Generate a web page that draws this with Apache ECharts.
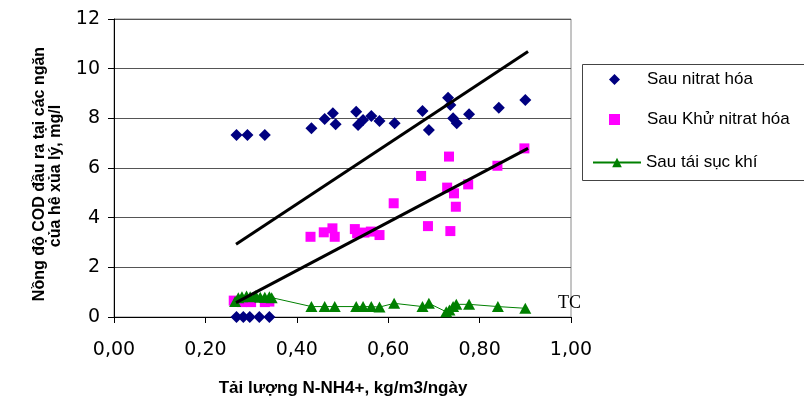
<!DOCTYPE html>
<html>
<head>
<meta charset="utf-8">
<script src="https://cdn.jsdelivr.net/npm/echarts@6/dist/echarts.min.js"></script>
<style>
  html, body { margin: 0; padding: 0; background: #fff; }
  #chart { width: 804px; height: 403px; }
</style>
</head>
<body>
<div id="chart"></div>
<script>
  // Sau nitrat hóa (navy diamonds)
  var nitratX = [0.268, 0.292, 0.330, 0.432, 0.461, 0.479, 0.485, 0.530, 0.534, 0.545, 0.563, 0.581, 0.614,
    0.675, 0.689, 0.731, 0.736, 0.742, 0.750, 0.777, 0.842, 0.900,
    0.268, 0.283, 0.297, 0.318, 0.340]
  var nitratY = [7.33, 7.33, 7.33, 7.60, 7.97, 8.20, 7.76, 8.27, 7.73, 7.93, 8.09, 7.89, 7.80,
    8.30, 7.53, 8.83, 8.54, 8.00, 7.80, 8.16, 8.43, 8.74,
    0, 0, 0, 0, 0]

  // Sau Khử nitrat hóa (magenta squares)
  var khuX = [0.262, 0.280, 0.300, 0.330, 0.340, 0.430, 0.459, 0.478, 0.483, 0.527, 0.532, 0.548, 0.562, 0.581,
    0.612, 0.672, 0.687, 0.729, 0.733, 0.736, 0.744, 0.748, 0.775, 0.839, 0.898]
  var khuY = [0.66, 0.60, 0.60, 0.60, 0.62, 3.23, 3.41, 3.57, 3.23, 3.54, 3.37, 3.40, 3.44, 3.30,
    4.58, 5.68, 3.66, 5.21, 6.46, 3.46, 4.98, 4.44, 5.34, 6.09, 6.79]

  // Sau tái sục khí (green triangles, thin line)
  var sucKhiX = [0.265, 0.272, 0.280, 0.290, 0.298, 0.310, 0.320, 0.330, 0.340, 0.345,
    0.432, 0.461, 0.483, 0.530, 0.545, 0.563, 0.581, 0.613, 0.675, 0.689, 0.727, 0.734, 0.742, 0.749, 0.777, 0.840, 0.900]
  var sucKhiY = [0.62, 0.78, 0.82, 0.85, 0.82, 0.86, 0.80, 0.80, 0.82, 0.78,
    0.42, 0.42, 0.42, 0.42, 0.42, 0.42, 0.40, 0.55, 0.42, 0.55, 0.21, 0.28, 0.42, 0.51, 0.51, 0.42, 0.35]

  // trend lines (end points)
  var trendX = [0.267, 0.906]
  var trend1Y = [2.93, 10.69]
  var trend2Y = [0.58, 6.79]

  function pairs(xs, ys) {
    var out = []
    for (var i = 0; i < xs.length; i++) {
      out.push([xs[i], ys[i]])
    }
    return out
  }

  var legendText = {
    fontFamily: 'Liberation Sans, Arial',
    fontSize: 17,
    color: '#000'
  }

  var chart = echarts.init(document.getElementById('chart'))
  chart.setOption({
    animation: false,
    grid: {
      left: 114,
      right: 233,
      top: 19,
      bottom: 86,
      show: true,
      borderColor: '#8a8a8a',
      borderWidth: 1
    },
    legend: [{
      orient: 'vertical',
      left: 604,
      top: 66,
      itemGap: 23,
      itemWidth: 11,
      itemHeight: 11,
      textStyle: Object.assign({padding: [0, 0, 0, 22]}, legendText),
      data: ['Sau nitrat hóa', 'Sau Khử nitrat hóa']
    }, {
      orient: 'vertical',
      left: 587,
      top: 149,
      itemWidth: 48,
      itemHeight: 12,
      textStyle: legendText,
      data: ['Sau tái sục khí']
    }],
    xAxis: {
      type: 'value',
      min: 0,
      max: 1,
      interval: 0.2,
      axisLine: { lineStyle: { color: '#000', width: 1 } },
      axisTick: { show: true, inside: false, length: 6, lineStyle: { color: '#000' } },
      splitLine: { show: false },
      axisLabel: {
        margin: 24,
        fontFamily: 'DejaVu Sans',
        fontSize: 19,
        color: '#000',
        formatter: function (v) { return v.toFixed(2).replace('.', ',') }
      }
    },
    yAxis: {
      type: 'value',
      min: 0,
      max: 12,
      interval: 2,
      axisLine: { show: true, lineStyle: { color: '#000', width: 1 } },
      axisTick: { show: true, inside: false, length: 6, lineStyle: { color: '#000' } },
      splitLine: { show: true, lineStyle: { color: '#555', width: 1 } },
      axisLabel: {
        margin: 14,
        fontFamily: 'DejaVu Sans',
        fontSize: 19,
        color: '#000'
      }
    },
    graphic: [
      {
        type: 'rect',
        left: 580,
        top: 62,
        shape: { width: 240, height: 116 },
        style: { fill: 'none', stroke: '#444', lineWidth: 1 },
        z: -1
      },
      {
        type: 'text',
        x: 40,
        y: 174,
        rotation: Math.PI / 2,
        style: {
          text: 'Nồng độ COD đầu ra tại các ngăn',
          fontFamily: 'Liberation Sans, Arial',
          fontWeight: 'bold',
          fontSize: 16,
          fill: '#000',
          textAlign: 'center',
          textVerticalAlign: 'middle'
        }
      },
      {
        type: 'text',
        x: 56,
        y: 176,
        rotation: Math.PI / 2,
        style: {
          text: 'của hê xủa lý, mg/l',
          fontFamily: 'Liberation Sans, Arial',
          fontWeight: 'bold',
          fontSize: 16,
          fill: '#000',
          textAlign: 'center',
          textVerticalAlign: 'middle'
        }
      },
      {
        type: 'text',
        x: 343,
        y: 388,
        style: {
          text: 'Tải lượng N-NH4+, kg/m3/ngày',
          fontFamily: 'Liberation Sans, Arial',
          fontWeight: 'bold',
          fontSize: 17,
          fill: '#000',
          textAlign: 'center',
          textVerticalAlign: 'middle'
        }
      },
      {
        type: 'text',
        x: 558,
        y: 303,
        style: {
          text: 'TC',
          fontFamily: 'Liberation Serif, Times New Roman',
          fontSize: 18,
          fill: '#000',
          textAlign: 'left',
          textVerticalAlign: 'middle'
        }
      }
    ],
    series: [
      {
        name: 'Sau Khử nitrat hóa',
        type: 'scatter',
        symbol: 'rect',
        symbolSize: 10,
        itemStyle: { color: '#ff00ff', opacity: 1 },
        data: pairs(khuX, khuY),
        z: 2
      },
      {
        name: 'Sau tái sục khí',
        type: 'line',
        symbol: 'triangle',
        symbolSize: [12, 11],
        showAllSymbol: true,
        lineStyle: { color: '#008000', width: 1 },
        itemStyle: { color: '#008000', opacity: 1 },
        data: pairs(sucKhiX, sucKhiY),
        z: 3
      },
      {
        name: 'Sau nitrat hóa',
        type: 'scatter',
        symbol: 'diamond',
        symbolSize: 12,
        itemStyle: { color: '#000080', opacity: 1 },
        data: pairs(nitratX, nitratY),
        z: 4
      },
      {
        name: 'trend1',
        type: 'line',
        symbol: 'none',
        lineStyle: { color: '#000', width: 3 },
        data: pairs(trendX, trend1Y),
        z: 5
      },
      {
        name: 'trend2',
        type: 'line',
        symbol: 'none',
        lineStyle: { color: '#000', width: 3 },
        data: pairs(trendX, trend2Y),
        z: 5
      }
    ]
  })
</script>
</body>
</html>
